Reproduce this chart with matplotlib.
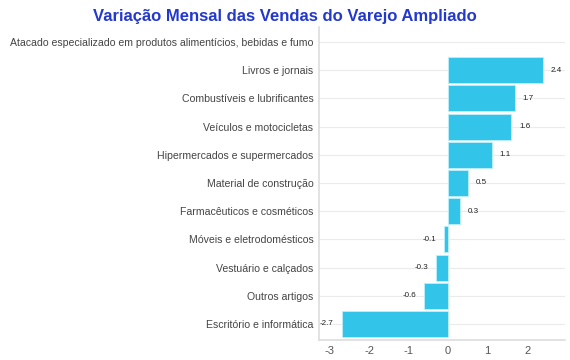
import matplotlib.pyplot as plt
import numpy as np

plt.rcParams['font.family'] = ['Liberation Sans', 'DejaVu Sans']

# Dados
categorias = [
    'Atacado especializado em produtos alimentícios, bebidas e fumo',
    'Livros e jornais',
    'Combustíveis e lubrificantes',
    'Veículos e motocicletas',
    'Hipermercados e supermercados',
    'Material de construção',
    'Farmacêuticos e cosméticos',
    'Móveis e eletrodomésticos',
    'Vestuário e calçados',
    'Outros artigos',
    'Escritório e informática',
]
variacao = [np.nan, 2.4, 1.7, 1.6, 1.1, 0.5, 0.3, -0.1, -0.3, -0.6, -2.7]
xticks = [-3, -2, -1, 0, 1, 2]

fig = plt.figure(figsize=(5.7, 3.6), dpi=100)
ax = fig.add_axes([319 / 570, 20 / 360, 246 / 570, 313 / 360])

y = np.arange(len(categorias))
vals = np.array(variacao, dtype=float)
ok = ~np.isnan(vals)
ax.barh(y[ok], vals[ok], height=0.92, color='#33C4EA',
        edgecolor='#BFEFFA', linewidth=0.6, zorder=3)

for yi, v in zip(y[ok], vals[ok]):
    if v >= 0:
        ax.annotate(f'{v:.1f}', (v, yi), xytext=(5.5, 0), textcoords='offset points',
                    ha='left', va='center', fontsize=5.8, color='#222222')
    else:
        ax.annotate(f'{v:.1f}', (v, yi), xytext=(-5.5, 0), textcoords='offset points',
                    ha='right', va='center', fontsize=5.8, color='#222222')

ax.set_yticks(y)
ax.set_yticklabels(categorias, fontsize=7.6, color='#444444')
ax.set_ylim(len(categorias) - 1 + 0.57, -0.53)
ax.set_xticks(xticks)
ax.set_xticklabels([str(t) for t in xticks], fontsize=8, color='#555555')
ax.set_xlim(-3.27, 2.96)

ax.tick_params(axis='both', length=0, pad=4)
ax.grid(axis='y', color='#EBEBEB', linewidth=0.8, zorder=0)
for s in ['top', 'right']:
    ax.spines[s].set_visible(False)
ax.spines['left'].set_color('#DDDDDD')
ax.spines['bottom'].set_color('#DDDDDD')
ax.spines['left'].set_linewidth(1.2)
ax.spines['bottom'].set_linewidth(1.2)

fig.text(0.5, 0.975, 'Variação Mensal das Vendas do Varejo Ampliado', ha='center', va='top',
         fontsize=12.0, fontweight='bold', color='#2338CC')

fig.savefig('out.png', dpi=100)
